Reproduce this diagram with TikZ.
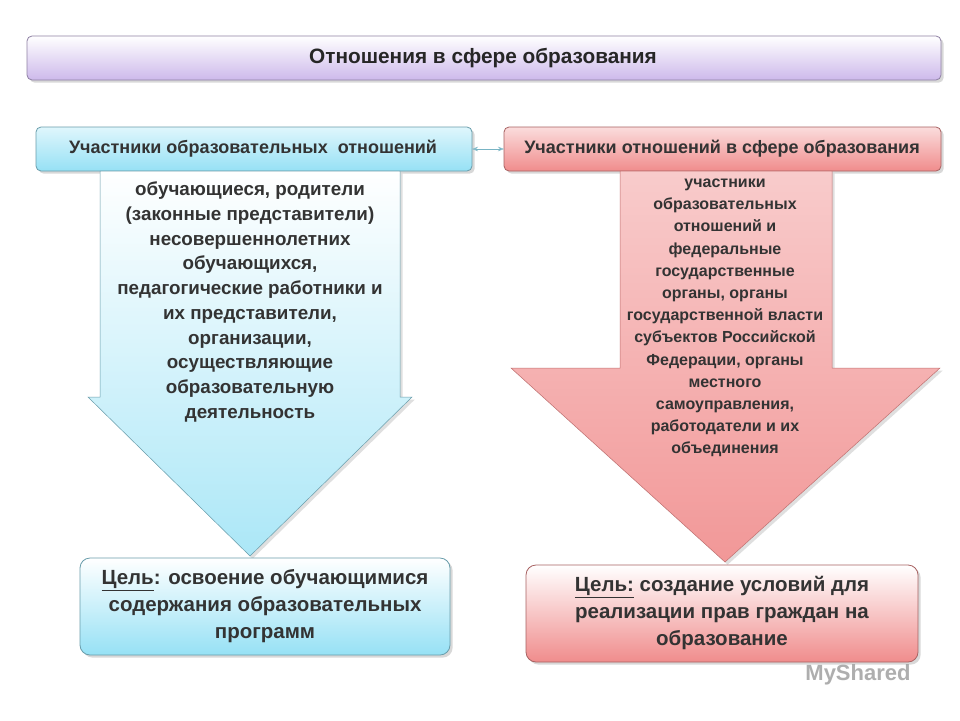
\documentclass[tikz,border=0pt]{standalone}
\usepackage{fontspec}
\setmainfont{Liberation Sans}
\usetikzlibrary{arrows.meta,shadows}
\definecolor{lav}{RGB}{205,185,235}
\definecolor{lblue}{RGB}{150,225,245}
\definecolor{pinkc}{RGB}{240,140,140}
\tikzset{
 bar/.style={draw=#1!70!black, rounded corners=5pt, line width=0.8pt, drop shadow={opacity=0.3}},
 lbl/.style={font=\bfseries\fontsize{18}{20}\selectfont, text=black!80},
}
\begin{document}
\begin{tikzpicture}[x=1pt,y=-1pt]
\useasboundingbox (0,0) rectangle (960,720);
\fill[white] (0,0) rectangle (960,720);
% top
\draw[bar=lav, top color=white, bottom color=lav] (27,36) rectangle (941,80);
\node[font=\bfseries\fontsize{20.8}{22}\selectfont, text=black!85] (t) at (483,58) {Отношения в сфере образования};
% headers
\draw[bar=lblue, top color=lblue!30, bottom color=lblue] (36,127) rectangle (472,171);
\node[lbl] (lh) at (253,149) {Участники образовательных\ \ отношений};
\draw[bar=pinkc, top color=pinkc!30, bottom color=pinkc] (504,127) rectangle (941,171);
\node[lbl] (rh) at (722,149) {Участники отношений в сфере образования};
\coordinate (la) at (472,149); \coordinate (ra) at (504,149);
\draw[{Stealth[length=6pt,open]}-{Stealth[length=6pt,open]}, draw=lblue!80!black, line width=0.6pt] (la) -- (ra);
% arrows
\shade[top color=white, bottom color=lblue!80, draw=lblue!70!black, line width=0.5pt, drop shadow={opacity=0.25}]
 (100,171) -- (400,171) -- (400,397) -- (412,397) -- (250,556) -- (88,397) -- (100,397) -- cycle;
\shade[top color=pinkc!45, bottom color=pinkc!90, draw=pinkc!80!black, line width=0.5pt, drop shadow={opacity=0.25}]
 (620,171) -- (832,171) -- (832,368) -- (940,368) -- (725,562) -- (511,368) -- (620,368) -- cycle;
\node[align=center, font=\bfseries\fontsize{18.8}{24.7}\selectfont, text=black!80] (lt) at (250,302)
 {обучающиеся, родители\\(законные представители)\\несовершеннолетних\\обучающихся,\\педагогические работники и\\их представители,\\организации,\\осуществляющие\\образовательную\\деятельность};
\node[align=center, font=\bfseries\fontsize{16}{22.2}\selectfont, text=black!80] (rt) at (725,318)
 {участники\\образовательных\\отношений и\\федеральные\\государственные\\органы, органы\\государственной власти\\субъектов Российской\\Федерации, органы\\местного\\самоуправления,\\работодатели и их\\объединения};
% goals
\draw[bar=lblue, top color=white, bottom color=lblue, rounded corners=10pt] (80,558) rectangle (450,655);
\node[align=center, font=\fontsize{20.5}{27}\selectfont, text=black!80] (lg) at (265,606)
 {\textbf{\underline{Цель}: освоение обучающимися}\\\textbf{содержания образовательных}\\\textbf{программ}};
\draw[bar=pinkc, top color=white, bottom color=pinkc, rounded corners=10pt] (526,565) rectangle (918,662);
\node[align=center, font=\fontsize{20.5}{27}\selectfont, text=black!80] (rg) at (722,613)
 {\textbf{\underline{Цель:} создание условий для}\\\textbf{реализации прав граждан на}\\\textbf{образование}};
\node[font=\bfseries\fontsize{22}{24}\selectfont, text=black!45, opacity=0.7] (wm) at (858,675) {MyShared};
\end{tikzpicture}
\end{document}
